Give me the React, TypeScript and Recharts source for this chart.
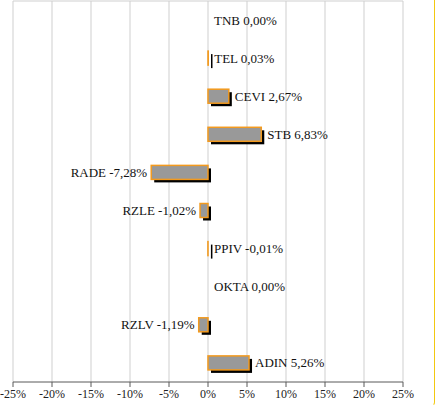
import { BarChart, Bar, XAxis, YAxis, CartesianGrid, LabelList } from "recharts";

const tickers = ["TNB", "TEL", "CEVI", "STB", "RADE", "RZLE", "PPIV", "OKTA", "RZLV", "ADIN"];
const changes = [0.0, 0.03, 2.67, 6.83, -7.28, -1.02, -0.01, 0.0, -1.19, 5.26];
const xTicks = [-25, -20, -15, -10, -5, 0, 5, 10, 15, 20, 25];

const data = tickers.map((name, i) => ({ name, value: changes[i] }));

const FONT = "'Liberation Serif', serif";

const fmt = (v: number) => v.toFixed(2).replace(".", ",") + "%";

const ShadowBar = (props: any) => {
	const { x, y, width, height } = props;
	let left = x;
	let w = width;
	if (w < 0) {
		left = x + w;
		w = -w;
	}
	if (w < 0.01) return <g />;
	return (
		<g>
			<rect x={left + 3} y={y + 3} width={Math.max(w, 1.5)} height={height} fill="#000" />
			<rect x={left} y={y} width={w} height={height} fill="#999999" stroke="#F39A1E" strokeWidth={1.5} />
		</g>
	);
};

const BarLabel = (props: any) => {
	const { x, y, width, height, index } = props;
	const item = data[index];
	const text = `${item.name} ${fmt(item.value)}`;
	const onLeft = item.value < -0.05;
	const end = x + width;
	return (
		<text
			x={onLeft ? end - 4 : end + 6}
			y={y + height / 2}
			dy="0.35em"
			textAnchor={onLeft ? "end" : "start"}
			fontFamily={FONT}
			fontSize={13}
			fill="#111"
		>
			{text}
		</text>
	);
};

export default function App() {
	return (
		<div style={{ position: "absolute", left: 0, top: 0, width: 437, height: 410, background: "#fff" }}>
			<div
				style={{
					position: "absolute",
					left: 0,
					top: -10,
					width: 434,
					height: 415,
					borderRight: "1.5px solid #F2C811",
					borderBottom: "1.5px solid transparent",
					borderBottomRightRadius: 4,
				}}
			/>
			<div style={{ position: "absolute", left: 0, top: 0 }}>
				<BarChart
					width={437}
					height={410}
					data={data}
					layout="vertical"
					margin={{ top: 1, right: 34, bottom: 4, left: 13 }}
					barSize={14}
				>
					<CartesianGrid stroke="#cfcfcf" vertical={true} horizontal={true} horizontalPoints={[1]} />
					<XAxis
						type="number"
						domain={[-25, 25]}
						ticks={xTicks}
						tickFormatter={(v: number) => `${v}%`}
						height={24}
						axisLine={{ stroke: "#595959" }}
						tickLine={{ stroke: "#595959" }}
						tickSize={5}
						tick={{ fontFamily: FONT, fontSize: 12, fill: "#222" }}
						interval={0}
					/>
					<YAxis type="category" dataKey="name" hide width={0} />
					<Bar dataKey="value" shape={ShadowBar} isAnimationActive={false}>
						<LabelList dataKey="value" content={BarLabel} />
					</Bar>
				</BarChart>
			</div>
		</div>
	);
}
